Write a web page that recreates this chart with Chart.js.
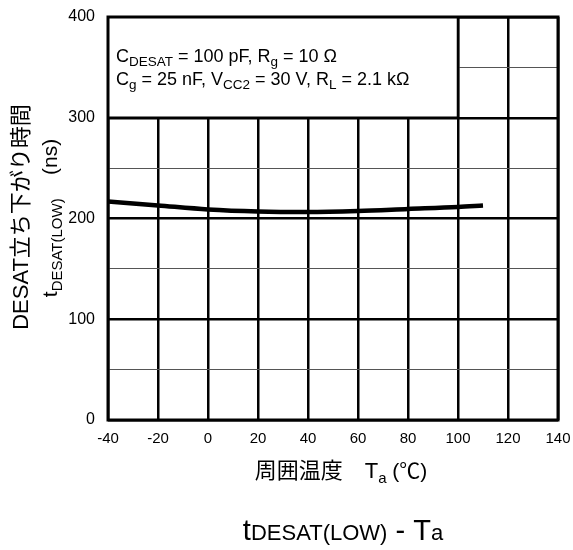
<!DOCTYPE html>
<html>
<head>
<meta charset="utf-8">
<script src="https://cdn.jsdelivr.net/npm/chart.js@4/dist/chart.umd.min.js"></script>
<style>
  html, body { margin: 0; padding: 0; background: #fff; }
  #wrap { width: 573px; height: 550px; }
</style>
</head>
<body>
<div id="wrap"><canvas id="chart" width="573" height="550"></canvas></div>
<script>
// 周囲温度 (°C) と立ち下がり時間 (ns)
const temps = [-40, -20, 0, 20, 40, 60, 80, 100, 110];
const tDesatLow = [217, 213, 209, 207, 206.5, 207.5, 209.5, 211.5, 213];

const xTicks = [-40, -20, 0, 20, 40, 60, 80, 100, 120, 140];
const yTicks = [0, 100, 200, 300, 400];

const FONT = '"Liberation Sans", Arial, sans-serif';
const JP = '"Liberation Sans", "Noto Sans CJK JP", sans-serif';

// 添字付きテキストを描く
function drawRich(ctx, parts, x, y, align) {
  let total = 0;
  parts.forEach(p => {
    ctx.font = p.size + 'px ' + (p.font || FONT);
    p.w = ctx.measureText(p.text).width;
    total += p.w;
  });
  let cx = align === 'center' ? x - total / 2 : x;
  ctx.textBaseline = 'alphabetic';
  ctx.textAlign = 'left';
  parts.forEach(p => {
    ctx.font = p.size + 'px ' + (p.font || FONT);
    ctx.fillText(p.text, cx, y + (p.dy || 0));
    cx += p.w;
  });
}

const annotationPlugin = {
  id: 'annot',
  beforeDatasetsDraw(chart) {
    const { ctx, scales: { x, y } } = chart;
    const l = x.getPixelForValue(-40), r = x.getPixelForValue(100);
    const t = y.getPixelForValue(400), b = y.getPixelForValue(300);
    ctx.save();
    ctx.fillStyle = '#fff';
    ctx.fillRect(l, t, r - l, b - t);
    ctx.strokeStyle = '#000';
    ctx.lineWidth = 2.5;
    ctx.beginPath();
    ctx.moveTo(r, t);
    ctx.lineTo(r, b);
    ctx.lineTo(l, b);
    ctx.stroke();
    ctx.fillStyle = '#000';
    drawRich(ctx, [
      { text: 'C', size: 18 },
      { text: 'DESAT', size: 13.5, dy: 4 },
      { text: ' = 100 pF, R', size: 18 },
      { text: 'g', size: 13.5, dy: 4 },
      { text: ' = 10 Ω', size: 18 }
    ], l + 8, t + 45, 'left');
    drawRich(ctx, [
      { text: 'C', size: 18 },
      { text: 'g', size: 13.5, dy: 4 },
      { text: ' = 25 nF, V', size: 18 },
      { text: 'CC2', size: 13.5, dy: 4 },
      { text: ' = 30 V, R', size: 18 },
      { text: 'L', size: 13.5, dy: 4 },
      { text: ' = 2.1 kΩ', size: 18 }
    ], l + 8, t + 68, 'left');
    ctx.restore();
  },
  afterDraw(chart) {
    const { ctx, chartArea } = chart;
    ctx.save();
    ctx.fillStyle = '#000';
    // 外枠
    ctx.strokeStyle = '#000';
    ctx.lineWidth = 3;
    ctx.strokeRect(chartArea.left, chartArea.top, chartArea.right - chartArea.left, chartArea.bottom - chartArea.top);

    // x 軸タイトル
    drawRich(ctx, [
      { text: '周囲温度　T', size: 22, font: JP },
      { text: 'a', size: 15, dy: 5 },
      { text: ' (℃)', size: 21, font: JP }
    ], 341, 478, 'center');

    // 図タイトル
    drawRich(ctx, [
      { text: 't', size: 29 },
      { text: 'DESAT(LOW)', size: 22 },
      { text: ' - T', size: 29 },
      { text: 'a', size: 22 }
    ], 343, 540, 'center');

    // y 軸タイトル (回転)
    ctx.save();
    ctx.translate(28, 217);
    ctx.rotate(-Math.PI / 2);
    drawRich(ctx, [{ text: 'DESAT立ち下がり時間', size: 22, font: JP }], 0, 0, 'center');
    ctx.restore();
    ctx.save();
    ctx.translate(57, 218);
    ctx.rotate(-Math.PI / 2);
    drawRich(ctx, [
      { text: 't', size: 21 },
      { text: 'DESAT(LOW)', size: 15, dy: 5 },
      { text: '    (ns)', size: 21 }
    ], 0, 0, 'center');
    ctx.restore();
    ctx.restore();
  }
};

new Chart(document.getElementById('chart').getContext('2d'), {
  type: 'line',
  data: {
    datasets: [{
      data: temps.map((t, i) => ({ x: t, y: tDesatLow[i] })),
      borderColor: '#000',
      borderWidth: 4.5,
      pointRadius: 0,
      cubicInterpolationMode: 'monotone',
      fill: false
    }]
  },
  options: {
    responsive: false,
    animation: false,
    layout: { padding: { left: 0, right: 15, top: 17, bottom: 0 } },
    plugins: { legend: { display: false }, tooltip: { enabled: false } },
    scales: {
      x: {
        type: 'linear',
        min: -40, max: 140,
        afterBuildTicks: s => { s.ticks = xTicks.map(v => ({ value: v })); },
        afterFit: s => { s.height = 130; s.paddingLeft = 0; s.paddingRight = 0; },
        ticks: { color: '#000', font: { family: FONT, size: 15 }, padding: 10, maxRotation: 0 },
        grid: { color: '#000', lineWidth: 2.5, drawTicks: false },
        border: { display: false }
      },
      y: {
        min: 0, max: 400,
        afterBuildTicks: s => {
          const t = [];
          for (let v = 0; v <= 400; v += 50) t.push({ value: v });
          s.ticks = t;
        },
        afterFit: s => { s.width = 108; s.paddingTop = 0; s.paddingBottom = 0; },
        ticks: {
          color: '#000', font: { family: FONT, size: 16 }, padding: 13,
          callback: v => yTicks.includes(v) ? String(v) : ''
        },
        grid: {
          drawTicks: false,
          color: c => c.tick && c.tick.value % 100 === 0 ? '#000' : '#555',
          lineWidth: c => c.tick && c.tick.value % 100 === 0 ? 2.5 : 1
        },
        border: { display: false }
      }
    }
  },
  plugins: [annotationPlugin]
});
</script>
</body>
</html>
